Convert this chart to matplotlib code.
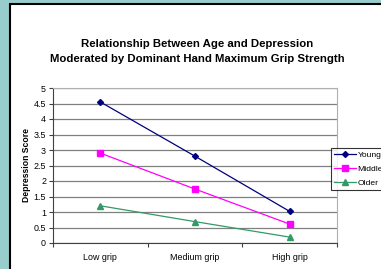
import matplotlib
matplotlib.use("Agg")
import matplotlib.pyplot as plt
from matplotlib.patches import Rectangle

plt.rcParams['font.family'] = ['Liberation Sans', 'DejaVu Sans']

# data
categories = ['Low grip', 'Medium grip', 'High grip']
young = [4.55, 2.80, 1.02]
middle = [2.90, 1.74, 0.61]
older = [1.20, 0.69, 0.19]
y_ticks = [0, 0.5, 1, 1.5, 2, 2.5, 3, 3.5, 4, 4.5, 5]
y_tick_labels = ['0', '0.5', '1', '1.5', '2', '2.5', '3', '3.5', '4', '4.5', '5']

W, H = 381, 269
fig = plt.figure(figsize=(W / 100, H / 100), dpi=100)
fig.patch.set_facecolor('#99CCCC')

# white chart area with black frame (left/top edges visible)
fig.patches.append(Rectangle((10 / W, -0.05), 1.1, 1 - 4 / H + 0.05,
                             transform=fig.transFigure, facecolor='white',
                             edgecolor='black', linewidth=1.5, zorder=-5))

ax = fig.add_axes([53 / W, 26 / H, 284 / W, 155 / H])
ax.set_zorder(1)
ax.set_facecolor('white')

x = range(len(categories))
ax.plot(x, young, color='#000080', marker='D', markersize=3, linewidth=0.9, label='Young', zorder=3)
ax.plot(x, middle, color='#FF00FF', marker='s', markersize=4, linewidth=0.9, label='Middle', zorder=3)
ax.plot(x, older, color='#339966', marker='^', markersize=4, linewidth=0.9, label='Older', zorder=3)

ax.set_xlim(-0.5, 2.5)
ax.set_ylim(0, 5)
ax.set_yticks(y_ticks)
ax.set_yticklabels(y_tick_labels, fontsize=6.4)
ax.yaxis.grid(True, color='#808080', linewidth=0.9)
ax.set_axisbelow(True)

ax.set_xticks([-0.5, 0.5, 1.5, 2.5])
ax.set_xticklabels([])
ax.set_xticks(list(x), minor=True)
ax.set_xticklabels(categories, minor=True, fontsize=6.4)
ax.tick_params(axis='x', which='minor', length=0, pad=7)
ax.tick_params(axis='x', which='major', length=3, width=0.8, color='#404040')
ax.tick_params(axis='y', length=3, width=0.8, color='#404040', pad=2)

for side in ['top', 'right']:
    ax.spines[side].set_color('#B0B0B0')
for side in ['left', 'bottom']:
    ax.spines[side].set_color('#404040')

ax.set_ylabel('Depression Score', fontsize=6.2, fontweight='bold', labelpad=2)

fig.text(197 / W, 1 - 44 / H, 'Relationship Between Age and Depression',
         ha='center', va='center', fontsize=8.2, fontweight='bold')
fig.text(197 / W, 1 - 59 / H, 'Moderated by Dominant Hand Maximum Grip Strength',
         ha='center', va='center', fontsize=8.2, fontweight='bold')

leg = fig.legend(loc='upper left', bbox_to_anchor=(331 / W, 1 - 148 / H),
                 fontsize=6.1, frameon=True, fancybox=False, edgecolor='black',
                 handlelength=2.6, handletextpad=0.2, borderpad=0.32,
                 labelspacing=0.75, borderaxespad=0)
leg.get_frame().set_linewidth(0.8)
leg.set_zorder(5)

fig.savefig('out.png', dpi=100, facecolor=fig.get_facecolor())
